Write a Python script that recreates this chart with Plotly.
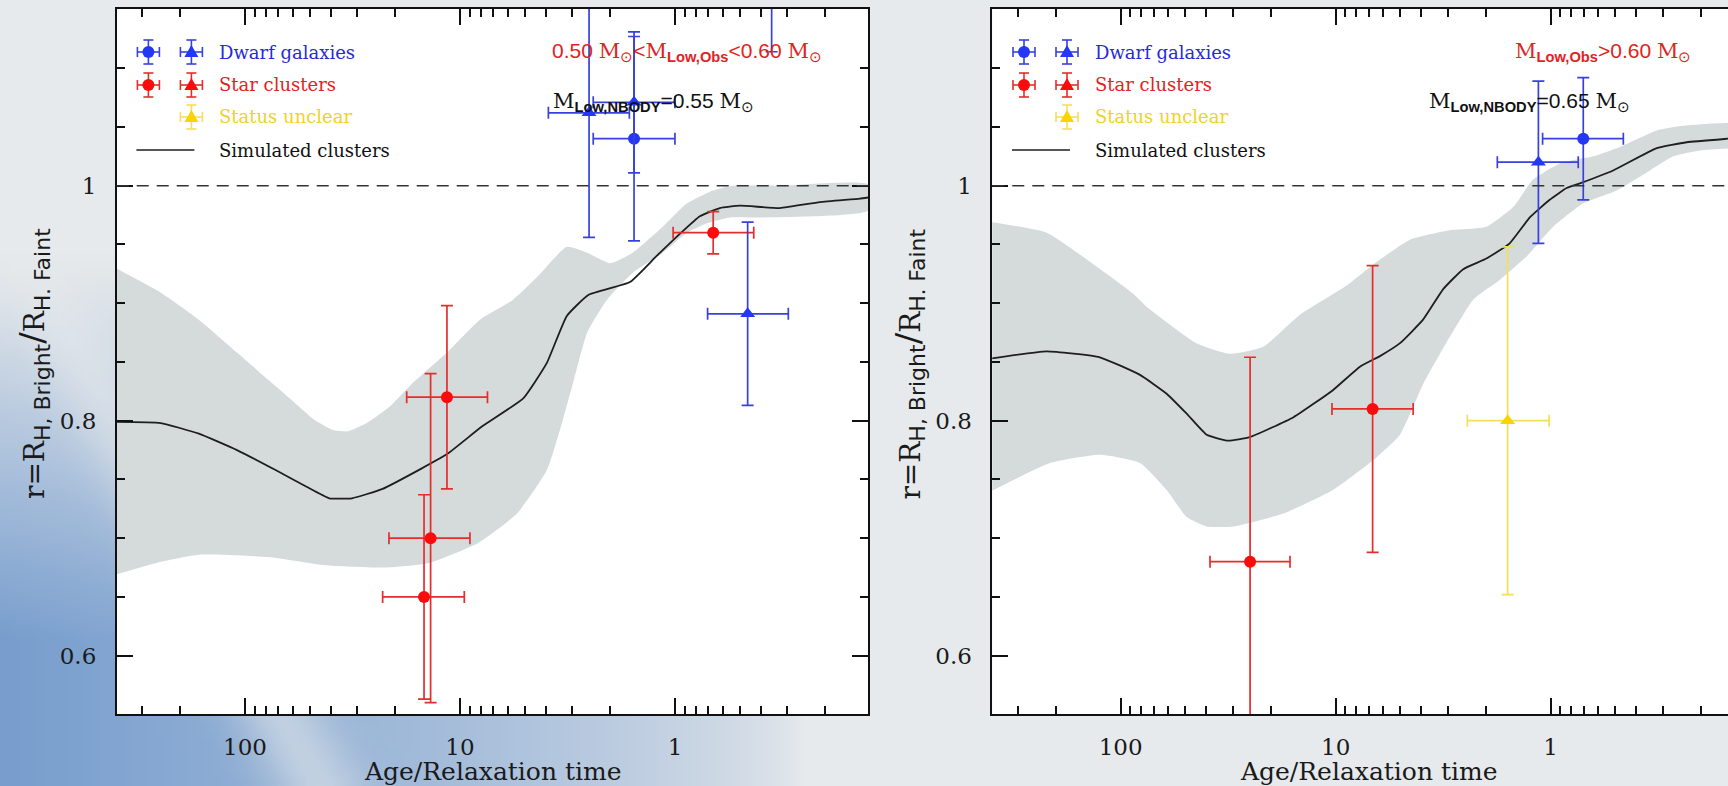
import base64
import struct
import zlib

import numpy as np
import plotly.graph_objects as go

W, H = 1728, 786

# ---------------- data : left panel (0.50 < M_low,obs < 0.60) ----------------
L_sim_x = [400, 247, 164, 109, 72.1, 52.0, 40.6, 31.8, 22.9, 15.2, 11.4, 7.91, 5.08,
           3.95, 3.19, 2.53, 1.62, 1.22, 0.949, 0.766, 0.618, 0.499, 0.325, 0.212, 0.138, 0.126]
L_sim_r = [0.799, 0.798, 0.789, 0.775, 0.758, 0.744, 0.734, 0.734, 0.742, 0.759, 0.772, 0.795, 0.819,
           0.849, 0.889, 0.907, 0.918, 0.940, 0.959, 0.974, 0.981, 0.983, 0.981, 0.986, 0.989, 0.990]
L_band_up_x = [400, 246, 164, 109, 78.2, 61.1, 47.8, 39.0, 33.2, 27.1, 21.2, 16.6, 11.5, 8.07,
               5.66, 4.39, 3.18, 2.56, 2.00, 1.57, 1.14, 0.879, 0.665, 0.537, 0.325, 0.126]
L_band_up_r = [0.930, 0.909, 0.886, 0.858, 0.835, 0.818, 0.801, 0.792, 0.791, 0.798, 0.812, 0.832, 0.858, 0.886,
               0.903, 0.922, 0.948, 0.943, 0.934, 0.943, 0.965, 0.985, 0.996, 1.000, 1.000, 1.001]
L_band_lo_x = [400, 246, 164, 78.2, 42.5, 22.8, 13.9, 8.24, 5.43, 3.94, 3.32, 2.95, 2.56, 2.07,
               1.57, 1.14, 0.879, 0.710, 0.555, 0.390, 0.126]
L_band_lo_r = [0.669, 0.680, 0.686, 0.684, 0.677, 0.675, 0.679, 0.696, 0.721, 0.758, 0.801, 0.835, 0.875, 0.903,
               0.926, 0.943, 0.960, 0.968, 0.973, 0.973, 0.979]

L_dwarf_circ = dict(x=[1.55], xhi=[2.40], xlo=[1.00], r=[1.040], rerr=[0.087])
L_dwarf_tri = dict(x=[2.51, 1.55, 0.459, 0.355], xhi=[3.88, 2.40, 0.705, 0.55], xlo=[1.63, 1.00, 0.297, 0.23],
                   r=[1.062, 1.071, 0.891, 1.200], rerr=[0.106, 0.060, 0.078, 0.086])
L_star_circ = dict(x=[14.7, 13.7, 11.5, 0.664], xhi=[22.9, 21.4, 17.7, 1.02], xlo=[9.55, 8.99, 7.45, 0.43],
                   r=[0.650, 0.700, 0.820, 0.960], rerr=[0.087, 0.140, 0.078, 0.018])

# ---------------- data : right panel (M_low,obs > 0.60) ----------------
R_sim_x = [400, 221, 125, 81.3, 61.1, 49.3, 39.8, 31.6, 25.1, 15.7, 10.3, 7.71, 6.22, 5.02, 3.92,
           3.16, 2.55, 1.99, 1.55, 1.25, 1.01, 0.843, 0.731, 0.512, 0.321, 0.233, 0.150, 0.127]
R_sim_r = [0.853, 0.859, 0.854, 0.839, 0.823, 0.806, 0.788, 0.783, 0.786, 0.803, 0.826, 0.846, 0.855, 0.866, 0.886,
           0.912, 0.929, 0.938, 0.951, 0.973, 0.988, 0.998, 1.002, 1.013, 1.032, 1.037, 1.040, 1.041]
R_band_up_x = [400, 221, 129, 87.3, 75.7, 44.4, 31.0, 21.7, 14.7, 8.89, 6.68, 4.51, 2.94, 1.99, 1.49,
               1.21, 0.906, 0.634, 0.476, 0.321, 0.242, 0.127]
R_band_up_r = [0.969, 0.960, 0.931, 0.908, 0.897, 0.866, 0.857, 0.863, 0.890, 0.915, 0.933, 0.954, 0.962, 0.965, 0.982,
               1.005, 1.019, 1.025, 1.033, 1.047, 1.051, 1.052]
R_band_lo_x = [400, 213, 125, 81.3, 61.1, 49.3, 39.8, 29.9, 17.5, 10.3, 6.44, 5.02, 3.92, 3.27, 2.29,
               1.72, 1.29, 0.973, 0.705, 0.493, 0.345, 0.269, 0.202, 0.127]
R_band_lo_r = [0.740, 0.764, 0.771, 0.764, 0.741, 0.718, 0.710, 0.710, 0.721, 0.741, 0.769, 0.788, 0.831, 0.857, 0.903,
               0.920, 0.940, 0.965, 0.985, 0.996, 1.013, 1.025, 1.030, 1.034]

R_dwarf_circ = dict(x=[0.705], xhi=[1.09], xlo=[0.459], r=[1.040], rerr=[0.052])
R_dwarf_tri = dict(x=[1.14], xhi=[1.77], xlo=[0.744], r=[1.020], rerr=[0.069])
R_star_circ = dict(x=[25.0, 6.73], xhi=[38.4, 10.4], xlo=[16.3, 4.36], r=[0.680, 0.810], rerr=[0.174, 0.122])
R_unclear_tri = dict(x=[1.585], xhi=[2.44], xlo=[1.016], r=[0.800], rerr=[0.148])

X_TICKS = [100, 10, 1]
X_TICK_TEXT = ["100", "10", "1"]
Y_TICKS = [0.6, 0.8, 1.0]
Y_TICK_TEXT = ["0.6", "0.8", "1"]
Y_MINOR = [0.55, 0.65, 0.70, 0.75, 0.85, 0.90, 0.95, 1.05, 1.10, 1.15]
X_MINOR = [k * 10.0 ** e for e in (-1, 0, 1, 2) for k in range(2, 10)]

LEGEND_LABELS = ["Dwarf galaxies", "Star clusters", "Status unclear", "Simulated clusters"]

# ---------------- styles ----------------
BAND = "rgb(213,219,219)"
LINE = "#1e1e1e"
BLUE_M, BLUE_E, BLUE_T = "rgb(35,55,245)", "rgb(55,65,222)", "rgb(38,42,215)"
RED_M, RED_E, RED_T = "rgb(250,12,12)", "rgb(228,45,45)", "rgb(226,34,34)"
YEL_M, YEL_E, YEL_T = "rgb(250,212,0)", "rgb(245,222,90)", "rgb(240,210,40)"

# panel geometry (pixels)
L_LEFT, L_RIGHT = 116.7, 868.0
R_LEFT, R_RIGHT = 992.3, 1743.6
TOP, BOTTOM = 9.0, 714.0


def px(x):
    return x / W


def py(y):
    return 1 - y / H


def png_uri(arr):
    h, w, _ = arr.shape
    raw = b"".join(b"\x00" + arr[i].tobytes() for i in range(h))

    def chunk(tag, data):
        c = struct.pack(">I", len(data)) + tag + data
        return c + struct.pack(">I", zlib.crc32(tag + data) & 0xFFFFFFFF)

    png = (b"\x89PNG\r\n\x1a\n"
           + chunk(b"IHDR", struct.pack(">IIBBBBB", w, h, 8, 2, 0, 0, 0))
           + chunk(b"IDAT", zlib.compress(raw, 9))
           + chunk(b"IEND", b""))
    return "data:image/png;base64," + base64.b64encode(png).decode()


# slide-like background (light grey with a blue glow in the lower-left corner)
gw, gh = 216, 98
gx = (np.arange(gw) + 0.5) * W / gw
gy = (np.arange(gh) + 0.5) * H / gh
GX, GY = np.meshgrid(gx, gy)
wgt = np.clip((GY - 260) / 380, 0, 1) * np.clip(1 - GX / 800, 0, 1) ** 0.65
dist = (536 * GX - 300 * GY + 64000) / 614
wgt *= 1 - 0.55 * np.exp(-(dist / 40) ** 2)
gray = np.array([231, 234, 236], float)
blue = np.array([120, 158, 206], float)
bg = (gray[None, None, :] * (1 - wgt[..., None]) + blue[None, None, :] * wgt[..., None]).astype(np.uint8)

fig = go.Figure()


def add_band(xu, ru, xl, rl, xa, ya):
    fig.add_trace(go.Scatter(
        x=list(xu) + list(xl)[::-1], y=list(ru) + list(rl)[::-1],
        mode="lines", fill="toself", fillcolor=BAND,
        line=dict(width=0, color=BAND, shape="spline", smoothing=0.5),
        xaxis=xa, yaxis=ya, hoverinfo="skip", showlegend=False))


def add_line(x, r, xa, ya):
    fig.add_trace(go.Scatter(
        x=x, y=r, mode="lines", line=dict(color=LINE, width=1.8, shape="spline", smoothing=0.4),
        xaxis=xa, yaxis=ya, hoverinfo="skip", showlegend=False))


def add_pts(d, symbol, mcolor, ecolor, xa, ya, size):
    fig.add_trace(go.Scatter(
        x=d["x"], y=d["r"], mode="markers",
        marker=dict(symbol=symbol, size=size, color=mcolor, line=dict(width=0)),
        error_x=dict(type="data", symmetric=False,
                     array=[h - v for h, v in zip(d["xhi"], d["x"])],
                     arrayminus=[v - lo for v, lo in zip(d["x"], d["xlo"])],
                     color=ecolor, thickness=1.7, width=6),
        error_y=dict(type="data", array=d["rerr"], color=ecolor, thickness=1.7, width=6),
        xaxis=xa, yaxis=ya, hoverinfo="skip", showlegend=False))


# left panel
add_band(L_band_up_x, L_band_up_r, L_band_lo_x, L_band_lo_r, "x", "y")
add_line(L_sim_x, L_sim_r, "x", "y")
add_pts(L_star_circ, "circle", RED_M, RED_E, "x", "y", 12)
add_pts(L_dwarf_circ, "circle", BLUE_M, BLUE_E, "x", "y", 12)
add_pts(L_dwarf_tri, "triangle-up", BLUE_M, BLUE_E, "x", "y", 13)

# right panel
add_band(R_band_up_x, R_band_up_r, R_band_lo_x, R_band_lo_r, "x2", "y2")
add_line(R_sim_x, R_sim_r, "x2", "y2")
add_pts(R_star_circ, "circle", RED_M, RED_E, "x2", "y2", 12)
add_pts(R_unclear_tri, "triangle-up", YEL_M, YEL_E, "x2", "y2", 13)
add_pts(R_dwarf_circ, "circle", BLUE_M, BLUE_E, "x2", "y2", 12)
add_pts(R_dwarf_tri, "triangle-up", BLUE_M, BLUE_E, "x2", "y2", 13)

tickfont = dict(family="DejaVu Serif", size=23, color="#1a1a1a")
common = dict(showline=True, linecolor="#111", linewidth=1.6, ticks="inside", tickcolor="#111",
              tickwidth=1.5, ticklen=16, showgrid=False, zeroline=False, tickfont=tickfont)
ydom = [1 - BOTTOM / H, 1 - TOP / H]
yrange = [0.5504, 1.1504]

xaxis_common = dict(common, type="log", tickmode="array", tickvals=X_TICKS, ticktext=X_TICK_TEXT,
                    minor=dict(tickmode="array", tickvals=X_MINOR, ticks="inside", ticklen=8,
                               tickwidth=1.5, tickcolor="#111", showgrid=False),
                    mirror="allticks", ticklabelstandoff=12)
yaxis_common = dict(common, range=yrange, domain=ydom, tickmode="array", tickvals=Y_TICKS,
                    ticktext=Y_TICK_TEXT,
                    minor=dict(tickmode="array", tickvals=Y_MINOR, ticks="inside", ticklen=8,
                               tickwidth=1.5, tickcolor="#111", showgrid=False),
                    ticklabelstandoff=14)

fig.update_layout(
    width=W, height=H, autosize=False,
    margin=dict(l=0, r=0, t=0, b=0, pad=0),
    paper_bgcolor="rgb(231,234,236)", plot_bgcolor="rgba(0,0,0,0)",
    showlegend=False, hovermode=False,
    xaxis=dict(xaxis_common, domain=[px(L_LEFT), px(L_RIGHT)], range=[2.597, -0.898], anchor="y"),
    yaxis=dict(yaxis_common, anchor="x", mirror="allticks"),
    xaxis2=dict(xaxis_common, domain=[px(R_LEFT), 1.0], range=[2.597, -0.825], anchor="y2"),
    yaxis2=dict(yaxis_common, anchor="x2", mirror=False),
    images=[dict(source=png_uri(bg), xref="paper", yref="paper", x=0, y=1, sizex=1, sizey=1,
                 xanchor="left", yanchor="top", sizing="stretch", layer="below")],
)

shapes = []
# white plotting areas (drawn above the background picture, below the data)
for x0, x1 in ((L_LEFT, L_RIGHT), (R_LEFT, R_RIGHT)):
    shapes.append(dict(type="rect", xref="paper", yref="paper", x0=px(x0), x1=px(x1),
                       y0=py(BOTTOM), y1=py(TOP), fillcolor="white", line=dict(width=0),
                       layer="below"))
# dashed r = 1 reference lines
for xr, yr in (("x domain", "y"), ("x2 domain", "y2")):
    shapes.append(dict(type="line", xref=xr, yref=yr, x0=0, x1=1, y0=1, y1=1,
                       line=dict(color="#333", width=1.6, dash="12px,8px"), layer="above"))


def glyph(cx, cy, kind, mcol, ecol):
    out = []
    lw = dict(color=ecol, width=1.6)
    out.append(dict(type="line", xref="paper", yref="paper", x0=px(cx - 11), x1=px(cx + 11),
                    y0=py(cy), y1=py(cy), line=lw))
    out.append(dict(type="line", xref="paper", yref="paper", x0=px(cx), x1=px(cx),
                    y0=py(cy - 12), y1=py(cy + 12), line=lw))
    for sx in (-11, 11):
        out.append(dict(type="line", xref="paper", yref="paper", x0=px(cx + sx), x1=px(cx + sx),
                        y0=py(cy - 5), y1=py(cy + 5), line=lw))
    for sy in (-12, 12):
        out.append(dict(type="line", xref="paper", yref="paper", x0=px(cx - 5), x1=px(cx + 5),
                        y0=py(cy + sy), y1=py(cy + sy), line=lw))
    if kind == "circle":
        out.append(dict(type="circle", xref="paper", yref="paper", x0=px(cx - 6), x1=px(cx + 6),
                        y0=py(cy - 6), y1=py(cy + 6), fillcolor=mcol, line=dict(width=0)))
    else:
        path = "M {:.6f},{:.6f} L {:.6f},{:.6f} L {:.6f},{:.6f} Z".format(
            px(cx - 7), py(cy + 5), px(cx + 7), py(cy + 5), px(cx), py(cy - 7))
        out.append(dict(type="path", xref="paper", yref="paper", path=path, fillcolor=mcol,
                        line=dict(width=0)))
    return out


annotations = []
legend_colors = [BLUE_T, RED_T, YEL_T, "#111"]
rows_y = [52, 85, 117, 150]
for left in (L_LEFT, R_LEFT):
    c_x, t_x, txt_x = left + 31.7, left + 74.7, left + 100.7
    shapes += glyph(c_x, rows_y[0], "circle", BLUE_M, BLUE_E)
    shapes += glyph(t_x, rows_y[0], "tri", BLUE_M, BLUE_E)
    shapes += glyph(c_x, rows_y[1], "circle", RED_M, RED_E)
    shapes += glyph(t_x, rows_y[1], "tri", RED_M, RED_E)
    shapes += glyph(t_x, rows_y[2], "tri", YEL_M, YEL_E)
    shapes.append(dict(type="line", xref="paper", yref="paper", x0=px(left + 19.7), x1=px(left + 77.7),
                       y0=py(rows_y[3]), y1=py(rows_y[3]), line=dict(color=LINE, width=1.6)))
    for lab, col, yy in zip(LEGEND_LABELS, legend_colors, rows_y):
        annotations.append(dict(text=lab, x=px(txt_x), y=py(yy), xref="paper", yref="paper",
                                xanchor="left", yanchor="middle", showarrow=False,
                                font=dict(family="DejaVu Serif", size=18, color=col)))

SERIF_M = "<span style='font-family:DejaVu Serif'>M</span>"
SUN = "<sub>⊙</sub>"
mass_texts = [
    ("0.50 " + SERIF_M + SUN + "&lt;" + SERIF_M + "<sub><b>Low,Obs</b></sub>&lt;0.60 " + SERIF_M + SUN,
     550, 52, RED_T),
    (SERIF_M + "<sub><b>Low,NBODY</b></sub>=0.55 " + SERIF_M + SUN, 551, 102, "#111"),
    (SERIF_M + "<sub><b>Low,Obs</b></sub>&gt;0.60 " + SERIF_M + SUN, 1513, 52, RED_T),
    (SERIF_M + "<sub><b>Low,NBODY</b></sub>=0.65 " + SERIF_M + SUN, 1427, 102, "#111"),
]
for txt, xx, yy, col in mass_texts:
    annotations.append(dict(text=txt, x=px(xx), y=py(yy), xref="paper", yref="paper",
                            xanchor="left", yanchor="middle", showarrow=False,
                            font=dict(family="Liberation Sans", size=21, color=col)))

SUBF = "font-family:DejaVu Sans;font-size:22px"
ytitle = ("r=R<sub><span style='" + SUBF + "'>H, Bright</span></sub>"
          "<span style='font-size:34px'>/</span>R<sub><span style='" + SUBF + "'>H. Faint</span></sub>")
for cx in (33, 33 + R_LEFT - L_LEFT):
    annotations.append(dict(text=ytitle, x=px(cx), y=py(364), xref="paper", yref="paper",
                            xanchor="center", yanchor="middle", textangle=-90, showarrow=False,
                            font=dict(family="DejaVu Serif", size=28, color="#1a1a1a")))
for cx in (492, 1368):
    annotations.append(dict(text="Age/Relaxation time", x=px(cx), y=py(771), xref="paper", yref="paper",
                            xanchor="center", yanchor="middle", showarrow=False,
                            font=dict(family="DejaVu Serif", size=25, color="#1a1a1a")))

fig.update_layout(shapes=shapes, annotations=annotations)
fig.write_html("out.html")
